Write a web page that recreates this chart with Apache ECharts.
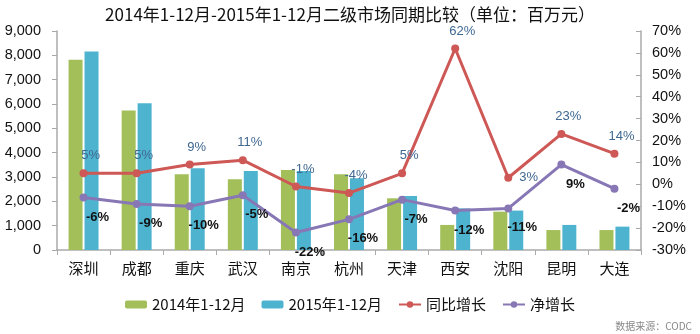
<!DOCTYPE html>
<html><head><meta charset="utf-8">
<script src="https://cdn.jsdelivr.net/npm/echarts@6/dist/echarts.min.js"></script>
<style>html,body{margin:0;padding:0;background:#fff}#c{width:700px;height:334px}</style>
</head><body><div id="c"></div>
<script>
const categories = ['深圳','成都','重庆','武汉','南京','杭州','天津','西安','沈阳','昆明','大连'];
const sales2014 = [7820,5730,3110,2910,3290,3110,2125,1030,1575,820,820];
const sales2015 = [8160,6030,3360,3250,3250,2950,2220,1710,1620,1030,960];
const yoyGrowth = [5,5,9,11,-1,-4,5,62,3,23,14];
const netGrowth = [-6,-9,-10,-5,-22,-16,-7,-12,-11,9,-2];
const leftTicks = {min:0,max:9000,interval:1000};
const rightTicks = {min:-30,max:70,interval:10};

const F = '"Noto Sans CJK SC","Noto Sans",sans-serif';
const N = '"Liberation Sans",sans-serif';
// label placement overrides (style only)
const yoyLabelRight = {8:true};
const yoyData = yoyGrowth.map((v,i)=> yoyLabelRight[i] ? {value:v,label:{position:'right',offset:[2,0]}} : v);

const chart = echarts.init(document.getElementById('c'), null, {renderer:'canvas'});
chart.setOption({
  backgroundColor:'#fff',
  animation:false,
  title:{text:'2014年1-12月-2015年1-12月二级市场同期比较（单位：百万元）',left:'center',top:1,
    textStyle:{fontFamily:F,fontSize:17,fontWeight:'normal',color:'#111'}},
  graphic:[{type:'text',right:8,bottom:3,style:{text:'数据来源：CODC',fontFamily:F,fontSize:10,fill:'#888'}}],
  legend:{bottom:17,left:'center',itemGap:16,itemWidth:22,itemHeight:8,
    textStyle:{fontFamily:F,fontSize:15,color:'#111'},
    data:['2014年1-12月','2015年1-12月','同比增长','净增长']},
  grid:{left:57,right:59,top:31,bottom:84},
  xAxis:{type:'category',data:categories,
    axisLine:{lineStyle:{color:'#aaa',width:1.5}},
    axisTick:{show:true,lineStyle:{color:'#aaa'},length:5},
    axisLabel:{fontFamily:F,fontSize:15,color:'#111',margin:11}},
  yAxis:[
    {type:'value',min:leftTicks.min,max:leftTicks.max,interval:leftTicks.interval,
     splitLine:{show:false},axisLine:{show:true,lineStyle:{color:'#aaa',width:1.5}},
     axisTick:{show:true,lineStyle:{color:'#aaa'},length:5},
     axisLabel:{fontFamily:N,fontSize:14.5,color:'#111',margin:16,
       formatter:v=>v.toLocaleString('en-US')}},
    {type:'value',min:rightTicks.min,max:rightTicks.max,interval:rightTicks.interval,
     splitLine:{show:false},axisLine:{show:true,lineStyle:{color:'#aaa',width:1.5}},
     axisTick:{show:true,inside:true,lineStyle:{color:'#aaa'},length:5},
     axisLabel:{fontFamily:N,fontSize:14.5,color:'#111',margin:11,
       formatter:v=>v+'%'}}
  ],
  series:[
    {name:'2014年1-12月',type:'bar',data:sales2014,barWidth:14,barGap:'14%',
     itemStyle:{color:'#a2bf5a'}},
    {name:'2015年1-12月',type:'bar',data:sales2015,barWidth:14,
     itemStyle:{color:'#4eb3cf'}},
    {name:'同比增长',type:'line',yAxisIndex:1,data:yoyData,symbol:'circle',symbolSize:8,
     lineStyle:{color:'#cd5855',width:3},itemStyle:{color:'#cd5855'},
     label:{show:true,position:'top',offset:[7,-2],formatter:'{c}%',fontFamily:N,fontSize:13,color:'#3f6891'},
     z:5},
    {name:'净增长',type:'line',yAxisIndex:1,data:netGrowth,symbol:'circle',symbolSize:8,
     lineStyle:{color:'#8877b5',width:3},itemStyle:{color:'#8877b5'},
     label:{show:true,position:'bottom',offset:[14,4],formatter:'{c}%',fontFamily:N,fontSize:13,fontWeight:'bold',color:'#111'},
     z:5}
  ]
});
</script></body></html>
